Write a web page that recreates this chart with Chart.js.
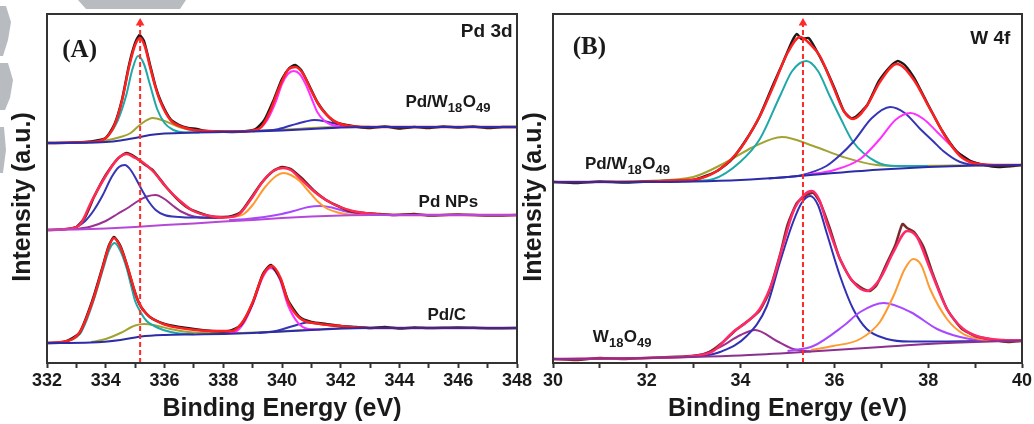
<!DOCTYPE html>
<html>
<head>
<meta charset="utf-8">
<script src="https://cdn.jsdelivr.net/npm/chart.js@4.4.1/dist/chart.umd.min.js"></script>
<style>
    html, body { margin: 0; padding: 0; background: #fff; }
    #wrap { position: relative; width: 1034px; height: 424px; overflow: hidden; }
    #chartA { position: absolute; left: 0; top: 0; }
    #chartB { position: absolute; left: 520px; top: 0; }
</style>
</head>
<body>
<div id="wrap">
    <canvas id="chartA" width="540" height="424"></canvas>
    <canvas id="chartB" width="514" height="424"></canvas>
</div>
<script>
// ---- Panel A : Pd 3d  (binding energy eV, intensity a.u. with offsets) ----
const markerA = 335.17;

const aTopExp = [[332,220],[333,220.5],[333.5,221.5],[334,225],[334.3,239],[334.55,263],[334.8,299],[335.0,320],[335.15,328],[335.3,322],[335.5,299],[335.7,276],[335.9,260],[336.2,244],[336.5,238],[336.8,235],[337.1,234],[337.4,232],[337.8,231.5],[338.3,231],[338.8,232],[339.1,234],[339.4,243],[339.7,262],[340.0,284],[340.25,295],[340.45,298],[340.65,293],[340.9,279],[341.2,261],[341.5,249],[341.8,241],[342.2,238],[342.6,236],[343,235],[343.5,236.5],[344,234.5],[344.5,236],[345,235],[345.5,236.5],[346,235.5],[346.5,236.5],[347,235],[347.5,236],[348,236]];
const aTopFit = [[332,220],[333.5,221],[334,225],[334.3,238],[334.55,262],[334.8,297],[335.0,318],[335.17,325],[335.35,315],[335.5,297],[335.7,275],[335.85,262],[336.2,243],[336.6,236],[337,233],[337.5,232],[338,231.5],[338.5,231.5],[339,232.5],[339.3,236],[339.6,252],[339.9,275],[340.2,293],[340.45,296],[340.7,290],[341,272],[341.3,256],[341.6,246],[341.9,240],[342.3,237],[343,236],[348,236]];
const aTopMain = [[333.3,220.8],[333.8,222],[334.1,228],[334.4,242],[334.7,268],[334.9,293],[335.1,307],[335.3,299],[335.5,279],[335.75,254],[336.0,240],[336.3,233],[336.7,230.5],[337.2,230.5]];
const aTopSat = [[333.3,220.8],[334,222.5],[334.5,226],[334.85,230],[335.2,239],[335.6,245],[336.0,242],[336.5,236],[337,232.5],[337.5,231.5],[338.5,231.5],[339.5,232.5],[340.5,234],[341.3,235.5],[342,236],[343,236.2]];
const aTopMain2 = [[338.8,231.8],[339.2,234],[339.5,243],[339.8,262],[340.0,279],[340.2,289],[340.4,292],[340.6,289],[340.8,279],[341.0,265],[341.2,251],[341.45,242],[341.7,238],[342,236.5],[342.5,236]];
const aTopSat2 = [[339,231.8],[339.8,233.5],[340.3,237.5],[340.8,241.5],[341.1,243],[341.5,241.5],[342,238],[342.5,236.3],[343,236]];
const aTopBg = [[332,220],[333,220.2],[334,221],[334.5,222.5],[335,225],[335.5,228],[336,229.5],[337,230.5],[338,231],[339,231.5],[340,232.5],[341,234],[342,235.5],[343,236],[348,236]];

const aMidExp = [[332,133],[332.5,133.5],[333,136],[333.3,146],[333.6,166],[334.0,188],[334.4,204],[334.7,210],[335.0,206],[335.3,199],[335.6,193],[336.0,178],[336.4,165],[336.8,155],[337.2,150],[337.6,146.5],[338.0,146],[338.3,147],[338.6,151],[338.9,163],[339.3,180],[339.7,192],[340.0,196],[340.3,194],[340.7,184],[341.1,172],[341.5,163],[341.9,157],[342.3,152],[342.8,150],[343.3,149],[343.8,148],[344.5,149],[345,147.5],[346,148.5],[347,147.5],[348,148]];
const aMidFit = [[332,133],[332.8,134.5],[333.14,139],[333.52,162],[334.04,189],[334.43,205],[334.72,209],[335.0,205],[335.2,202],[335.6,192],[336.08,175],[336.53,162],[336.98,152],[337.55,147],[338,145.5],[338.5,148],[338.9,162],[339.36,182],[339.7,192],[340.04,195],[340.3,193],[340.6,185],[341.2,169],[341.74,159],[342.4,152],[343.1,149],[344,148],[348,148]];
const aMidMain = [[332.6,133.5],[333.0,136],[333.3,142],[333.6,153],[333.9,168],[334.2,186],[334.45,196],[334.65,198],[334.85,193],[335.05,183],[335.25,172],[335.45,162],[335.7,153],[336.0,148],[336.5,146],[337,145.5],[337.6,145.5],[338,145.5]];
const aMidSat = [[333.0,134],[333.5,136.5],[334.0,142],[334.4,149],[334.8,156],[335.1,162],[335.4,166.5],[335.7,168],[336.0,164],[336.3,157],[336.6,151],[337.0,146.5],[337.5,145],[338,145]];
const aMidMain2 = [[337.8,145.5],[338.3,146],[338.7,149],[339.0,158],[339.4,175],[339.8,187],[340.05,190],[340.3,188],[340.6,182],[340.9,172],[341.2,162],[341.5,155],[341.9,150.5],[342.3,148.5],[343,148]];
const aMidSat2 = [[338.2,143],[338.8,144],[339.4,146],[339.9,148.5],[340.4,152],[340.9,156],[341.3,157],[341.7,155.5],[342.1,152],[342.6,149.5],[343.2,148.3],[344,148]];
const aMidBg = [[332,133],[333,133.5],[334,134.5],[335,136],[336,138],[337,139.5],[338,141.5],[339,143],[340,145],[341,146.5],[342,147.5],[343,148],[348,148]];

const aBotExp = [[332,20],[332.6,21],[333.1,30],[333.55,63],[333.9,97],[334.1,117],[334.28,126],[334.5,117],[334.7,100],[335.0,70],[335.2,56],[335.5,46],[336.0,39],[336.5,36],[337.0,34],[337.6,32],[338.2,32],[338.6,38],[339.0,60],[339.35,89],[339.62,98],[339.95,84],[340.2,63],[340.6,46],[341.0,41],[341.5,39],[342,37],[342.5,36],[343,35],[343.5,36],[344,34.5],[344.5,35.5],[345,35],[346,35.5],[347,34.8],[348,35]];
const aBotFit = [[332,20],[332.6,21.5],[333.12,31],[333.58,64],[333.92,98],[334.1,116],[334.28,125],[334.5,116],[334.71,99],[335.1,62],[335.39,49],[335.96,39],[336.76,34],[337.65,32],[338.3,32],[338.68,42],[339.02,62],[339.35,88],[339.65,97],[339.95,85],[340.2,62],[340.6,45],[341.3,39],[342,37],[342.6,35.5],[343.5,35],[348,35]];
const aBotMain = [[332.4,20.5],[332.8,23],[333.12,29],[333.35,43],[333.58,62],[333.92,95],[334.1,112],[334.3,120],[334.5,112],[334.71,95],[334.85,79],[335.0,62],[335.2,50],[335.39,42],[335.65,37],[335.96,33],[336.5,29.5],[337,28.8]];
const aBotSat = [[333.5,21],[334,24],[334.5,30],[335,37.5],[335.3,39],[335.7,37.5],[336.2,34],[336.8,31],[337.5,30],[338.5,30],[339.5,31],[340.5,32.5],[341.5,34],[342.5,35]];
const aBotMain2 = [[338.0,29.5],[338.4,31],[338.7,40],[339.02,60],[339.35,86],[339.62,95],[339.92,84],[340.2,58],[340.55,40],[340.9,34],[341.3,33.5]];
const aBotSat2 = [[339.2,30],[339.7,31.5],[340.1,34.5],[340.5,38],[340.85,40.5],[341.3,39],[341.8,37],[342.5,35.5],[343,35]];
const aBotBg = [[332,20],[333.5,20.5],[334.5,23],[335.2,26.5],[336,28],[337,28.5],[338,29],[339,30],[340,31.5],[341,33],[342,34.5],[343,35],[348,35]];

// ---- Panel B : W 4f ----
const markerB = 35.33;

const bTopExp = [[30,181],[30.5,180],[31,181.5],[31.5,180.5],[32,181.5],[32.5,182],[33,183],[33.5,192],[33.8,203],[34.1,222],[34.4,246],[34.7,279],[34.9,300],[35.1,322],[35.2,329],[35.3,324],[35.45,325],[35.6,314],[35.8,296],[36.0,275],[36.2,252],[36.35,245],[36.45,246],[36.7,258],[36.95,282],[37.2,297],[37.35,302],[37.5,298],[37.7,285],[38.0,258],[38.3,232],[38.6,212],[38.9,202],[39.2,198],[39.5,196],[39.8,197],[40,198]];
const bTopFit = [[30,181],[32,181.5],[32.6,182.5],[33.13,184.5],[33.56,194],[33.99,214],[34.41,247],[34.7,277],[35.0,310],[35.27,326],[35.5,318],[35.69,307],[35.97,277],[36.2,252],[36.4,244],[36.69,257],[36.97,281],[37.33,299],[37.68,284],[38.04,254],[38.4,224],[38.68,207],[38.96,200],[39.4,198],[40,198]];
const bTopOx = [[31,181],[32,182],[32.99,186],[33.7,201],[34.27,216],[34.88,226],[35.55,217],[36.19,206],[36.9,198],[37.5,197],[38.5,197.5],[40,198]];
const bTopMain = [[32.6,181.5],[33,182],[33.42,184],[33.99,201],[34.41,224],[34.84,267],[35.1,292],[35.4,302],[35.65,292],[35.9,267],[36.15,243],[36.4,221],[36.9,201],[37.3,197],[38,197]];
const bTopMain2 = [[34.6,184.5],[35,186],[35.27,187.5],[35.83,197],[36.1,207],[36.4,221],[36.8,245],[37.19,256],[37.5,250],[37.83,234],[38.1,222],[38.32,212],[38.68,201],[39.1,198],[39.6,198]];
const bTopOx2 = [[35.4,188],[36.0,193],[36.55,204],[36.97,224],[37.3,243],[37.62,250],[37.9,244],[38.19,231],[38.45,219],[38.68,209],[38.96,201],[39.3,198],[39.8,198]];
const bTopBg = [[30,181],[32,181],[33,181.5],[34,183],[35,186],[36,190],[37,193.5],[38,196],[39,197.5],[40,198]];

const bBotExp = [[30,4],[30.5,3],[31,5],[31.5,4],[32,5],[32.5,6],[33,7],[33.3,10],[33.6,20],[33.9,33],[34.1,40],[34.4,52],[34.6,70],[34.85,110],[35.0,138],[35.2,160],[35.4,168],[35.55,170],[35.7,160],[35.9,135],[36.1,106],[36.35,84],[36.55,76],[36.75,72],[36.9,78],[37.1,98],[37.3,118],[37.45,139],[37.55,135],[37.7,131],[37.9,116],[38.1,89],[38.4,54],[38.7,35],[39.0,27],[39.4,23],[39.7,21],[40,22]];
const bBotFit = [[30,4],[32,5],[33.0,7],[33.42,12],[33.84,31],[34.13,41],[34.41,54],[34.7,84],[34.9,117],[35.12,151],[35.35,168],[35.52,172],[35.68,163],[35.83,141],[36.12,104],[36.4,81],[36.69,72],[36.97,84],[37.26,111],[37.55,132],[37.76,126],[38.04,94],[38.4,54],[38.75,34],[39.1,26],[39.6,23],[40,22.5]];
const bBotLow = [[32.8,6.5],[33.2,9],[33.56,16],[34.0,28],[34.31,33],[34.77,22],[35.12,14],[35.5,11.5]];
const bBotMain = [[33.2,7],[33.56,11],[34.13,27],[34.56,57],[34.84,101],[35.12,141],[35.3,160],[35.48,167],[35.65,158],[35.83,131],[36.12,87],[36.4,54],[36.69,34],[37.12,24],[37.6,21.5],[38.2,21.5],[39,22],[40,22.5]];
const bBotOx = [[35.0,12],[35.55,17],[36.19,37],[36.55,51],[37.05,60],[37.62,51],[38.19,34],[38.68,26],[39.1,23],[39.6,22.5],[40,22.5]];
const bBotMain2 = [[35.5,13],[35.97,17],[36.55,24],[36.97,41],[37.26,67],[37.5,94],[37.68,104],[37.85,98],[38.04,74],[38.4,44],[38.75,29],[39.1,24],[39.6,22.5],[40,22.5]];
const bBotBg = [[30,4],[32,5],[33,6],[34,7.5],[35,10],[36,13],[37,16],[38,19],[39,21],[40,22.5]];

// sample labels: pieces of [text, isSubscript], anchored in data units
const labelsA = [
    {parts: [['Pd/W', 0], ['18', 1], ['O', 0], ['49', 1]], x: 344.2, y: 261},
    {parts: [['Pd NPs', 0]], x: 344.65, y: 161},
    {parts: [['Pd/C', 0]], x: 344.95, y: 48}
];
const labelsB = [
    {parts: [['Pd/W', 0], ['18', 1], ['O', 0], ['49', 1]], x: 30.68, y: 199},
    {parts: [['W', 0], ['18', 1], ['O', 0], ['49', 1]], x: 30.85, y: 26}
];

const SANS = "'Liberation Sans', Arial, sans-serif";
const SERIF = "'Liberation Serif', 'Times New Roman', serif";

function pts(arr) {
    return arr.map(p => ({x: p[0], y: p[1]}));
}

function curve(arr, color, width) {
    return {
        data: pts(arr),
        borderColor: color,
        borderWidth: width || 2,
        pointRadius: 0,
        fill: false,
        cubicInterpolationMode: 'monotone'
    };
}

function noisy(arr, color) {
    return {data: pts(arr), borderColor: color, borderWidth: 2.5, pointRadius: 0, fill: false, tension: 0.2};
}

function marker(e) {
    return {
        data: [{x: e, y: 0}, {x: e, y: 340}],
        borderColor: '#ff2a2a',
        borderWidth: 2,
        borderDash: [5, 3],
        tension: 0,
        clip: false,
        pointRadius: [0, 5],
        pointStyle: 'triangle',
        pointBackgroundColor: '#ff2a2a',
        pointBorderWidth: 0
    };
}

const framePlugin = {
    id: 'frame',
    beforeDraw(chart, args, opts) {
        const ctx = chart.ctx;
        if (opts.mark) {
            // grey watermark shapes at the top-left corner
            ctx.save();
            ctx.fillStyle = '#b8bcc1';
            [[[78,0],[186,0],[180,9],[86,9]],
             [[0,6],[6,6],[11,22],[8,40],[3,56],[0,56]],
             [[0,63],[8,63],[13,80],[10,98],[5,110],[0,110]],
             [[0,127],[4,127],[6,150],[3,173],[0,173]]].forEach(poly => {
                ctx.beginPath();
                poly.forEach((p, i) => i ? ctx.lineTo(p[0], p[1]) : ctx.moveTo(p[0], p[1]));
                ctx.closePath();
                ctx.fill();
            });
            ctx.restore();
        }
    },
    afterDraw(chart, args, opts) {
        const ctx = chart.ctx;
        const a = chart.chartArea;
        const xs = chart.scales.x, ys = chart.scales.y;
        ctx.save();
        ctx.strokeStyle = '#333';
        ctx.lineWidth = 2;
        ctx.strokeRect(a.left, a.top, a.right - a.left, a.bottom - a.top);

        ctx.fillStyle = '#1a1a1a';
        ctx.textBaseline = 'middle';
        opts.labels.forEach(l => {
            let x = xs.getPixelForValue(l.x);
            const y = ys.getPixelForValue(l.y);
            ctx.textAlign = 'left';
            l.parts.forEach(([t, sub]) => {
                ctx.font = 'bold ' + (sub ? 13 : 17) + 'px ' + SANS;
                ctx.fillText(t, x, sub ? y + 6 : y);
                x += ctx.measureText(t).width + (sub ? 0.5 : 0);
            });
        });

        ctx.font = 'bold 25px ' + SERIF;
        ctx.textAlign = 'left';
        ctx.fillText(opts.tag, xs.getPixelForValue(opts.tagX), ys.getPixelForValue(opts.tagY));

        ctx.font = 'bold 19px ' + SANS;
        ctx.textAlign = 'right';
        ctx.fillText(opts.line, xs.getPixelForValue(opts.lineX), ys.getPixelForValue(opts.lineY));

        ctx.translate(opts.titleX, 197);
        ctx.rotate(-Math.PI / 2);
        ctx.font = 'bold 25px ' + SANS;
        ctx.textAlign = 'center';
        ctx.fillText('Intensity (a.u.)', 0, 0);
        ctx.restore();
    }
};

function makeChart(id, datasets, xmin, xmax, yWidth, padRight, frameOpts) {
    return new Chart(document.getElementById(id).getContext('2d'), {
        type: 'line',
        data: {datasets: datasets},
        options: {
            responsive: false,
            animation: false,
            events: [],
            layout: {padding: {left: 0, right: padRight, top: 14, bottom: 0}},
            plugins: {legend: {display: false}, tooltip: {enabled: false}, frame: frameOpts},
            scales: {
                x: {
                    type: 'linear',
                    min: xmin,
                    max: xmax,
                    ticks: {
                        stepSize: 1,
                        autoSkip: false,
                        maxRotation: 0,
                        padding: 2,
                        color: '#1a1a1a',
                        font: {family: SANS, size: 18, weight: 'bold'},
                        callback: v => (v % 2 === 0 ? v : '')
                    },
                    grid: {drawOnChartArea: false, tickLength: 5, tickWidth: 2, color: '#333'},
                    border: {display: true, color: '#333', width: 2},
                    title: {
                        display: true,
                        text: 'Binding Energy (eV)',
                        color: '#1a1a1a',
                        font: {family: SANS, size: 25, weight: 'bold'},
                        padding: {top: 1, bottom: 0}
                    },
                    afterFit: s => {
                        s.height = 61;
                        s.paddingLeft = 0;
                        s.paddingRight = 0;
                    }
                },
                y: {
                    min: 0,
                    max: 349,
                    ticks: {display: false},
                    grid: {display: false},
                    border: {display: false},
                    afterFit: s => {
                        s.width = yWidth;
                    }
                }
            }
        },
        plugins: [framePlugin]
    });
}

const navy = '#2c2ca8';

makeChart('chartA', [
    marker(markerA),
    curve(aTopBg, navy), curve(aTopFit, '#ff2020', 2.5), noisy(aTopExp, '#1a1a1a'),
    curve(aTopMain2, '#ff30ff'), curve(aTopSat2, '#3535b5'), curve(aTopMain, '#1fa8a8'), curve(aTopSat, '#a2a232'),
    curve(aMidBg, '#b648d8'), curve(aMidFit, '#ff2a55', 2.5), noisy(aMidExp, '#5a1a1a'),
    curve(aMidMain2, '#ff9a30'), curve(aMidSat2, '#a848ff'), curve(aMidMain, '#3535b5'), curve(aMidSat, '#9a3090'),
    curve(aBotBg, navy), curve(aBotFit, '#ff2020', 2.5), noisy(aBotExp, '#1a1a1a'),
    curve(aBotMain2, '#ff30ff'), curve(aBotSat2, '#3535b5'), curve(aBotMain, '#1fa8a8'), curve(aBotSat, '#a2a232')
], 332, 348, 47, 23, {
    mark: true, labels: labelsA, titleX: 23,
    tag: '(A)', tagX: 332.52, tagY: 312,
    line: 'Pd 3d', lineX: 347.85, lineY: 331
});

makeChart('chartB', [
    marker(markerB),
    curve(bTopBg, navy), curve(bTopFit, '#ff2020', 2.5), noisy(bTopExp, '#1a1a1a'),
    curve(bTopOx2, '#ff30ff'), curve(bTopMain2, '#3535b5'), curve(bTopMain, '#1fa8a8'), curve(bTopOx, '#a2a232'),
    curve(bBotBg, '#8a3090'), curve(bBotFit, '#ff2a6a', 2.5), noisy(bBotExp, '#7a2a2a'),
    curve(bBotMain2, '#ff9a30'), curve(bBotOx, '#a848ff'), curve(bBotMain, '#3030b5'), curve(bBotLow, '#9a3090')
], 30, 40, 33, 12, {
    mark: false, labels: labelsB, titleX: 14,
    tag: '(B)', tagX: 30.42, tagY: 315,
    line: 'W 4f', lineX: 39.75, lineY: 324
});
</script>
</body>
</html>
